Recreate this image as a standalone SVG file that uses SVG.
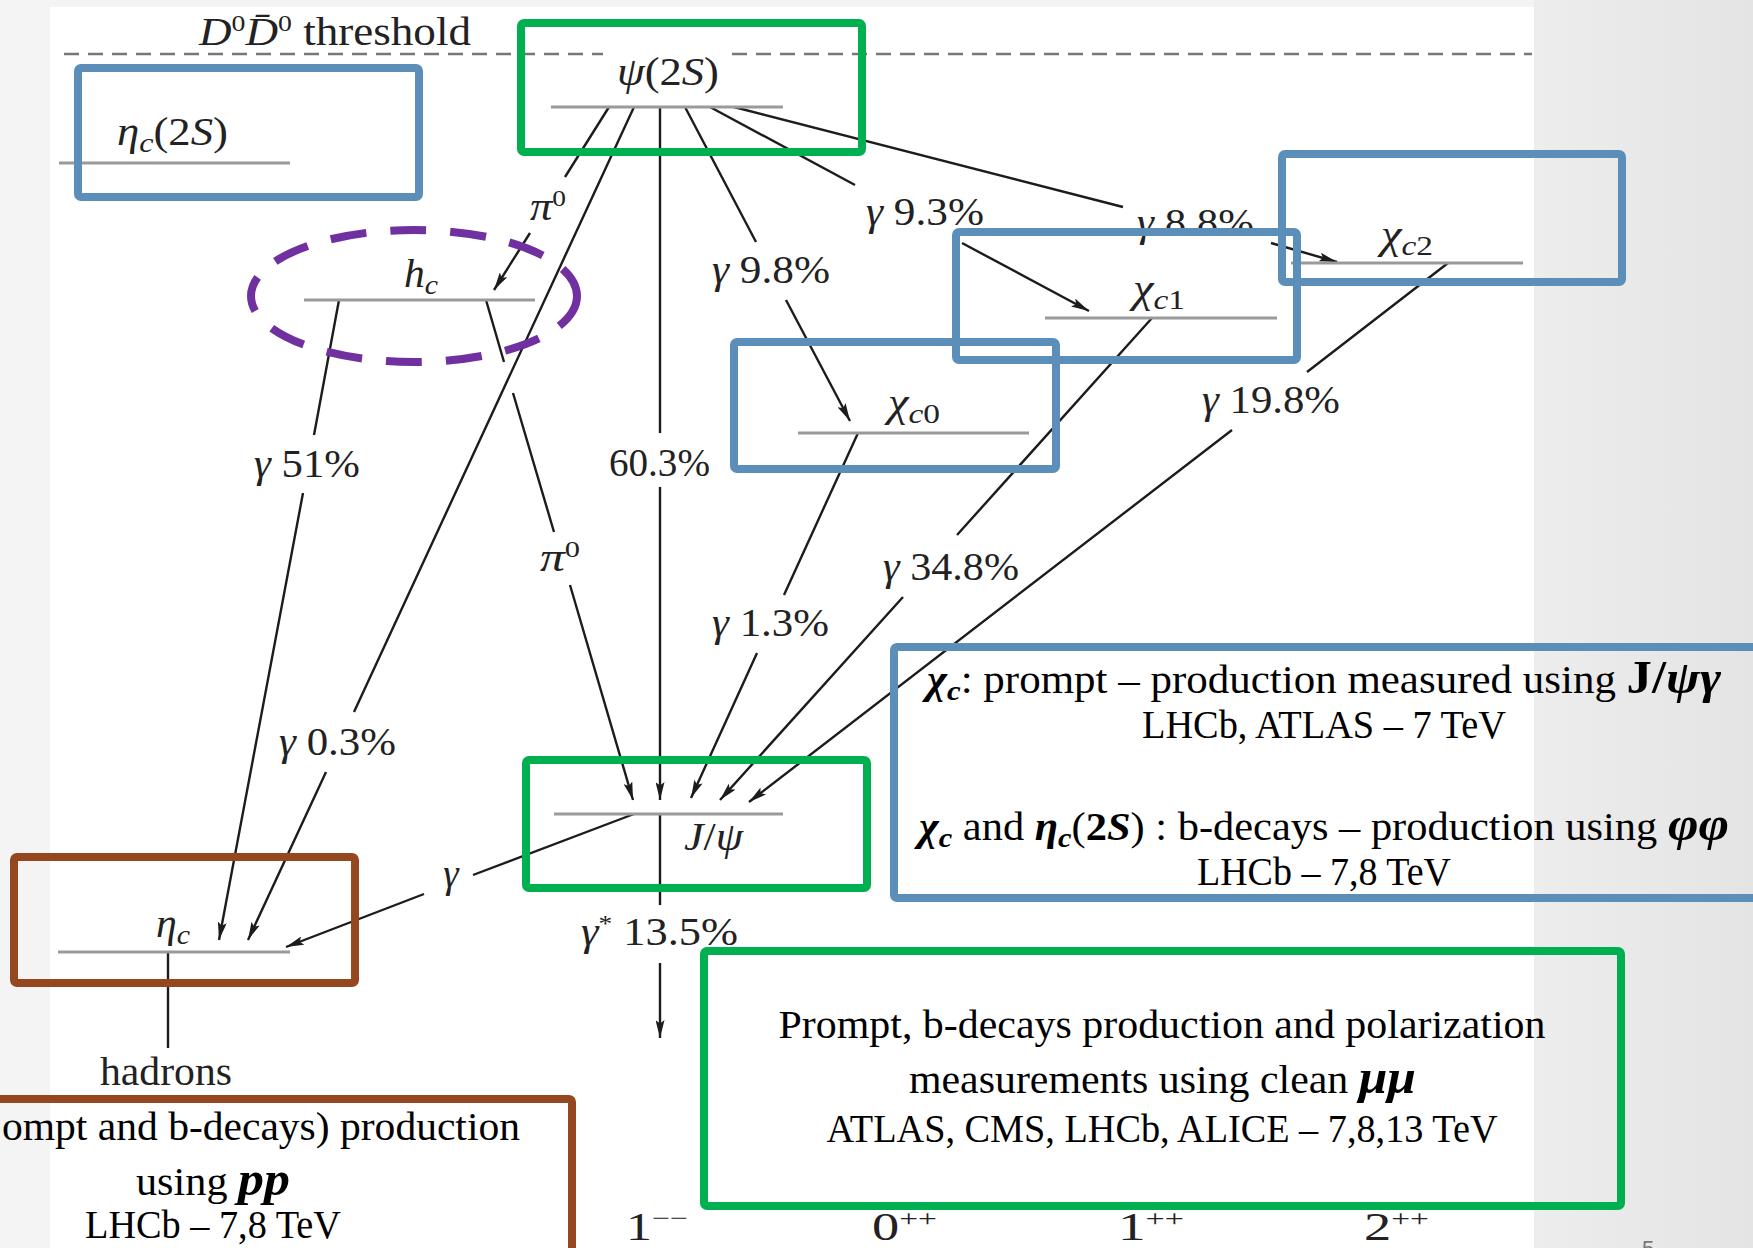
<svg xmlns="http://www.w3.org/2000/svg" width="1753" height="1248" viewBox="0 0 1753 1248">
<defs>
<style>
.lvl{stroke:#9a9a9a;stroke-width:3;fill:none}
.cn{stroke:#1c1c1c;stroke-width:2.4;fill:none}
.ar{marker-end:url(#ah)}
.lb{font-family:"Liberation Serif","DejaVu Serif",serif;font-size:39px;fill:#222}
.it{font-style:italic}
.tx{font-family:"Liberation Serif","DejaVu Serif",serif;font-size:39px;fill:#000}
.mb{font-weight:bold;font-style:italic}
.bb{fill:none;stroke:#5b8eb9;stroke-width:8}
.bg{fill:none;stroke:#00b050;stroke-width:8}
.br{fill:none;stroke:#95481f;stroke-width:8}
</style>
<marker id="ah" viewBox="0 0 18 9" refX="18" refY="4.5" markerWidth="18" markerHeight="9" markerUnits="userSpaceOnUse" orient="auto"><path d="M0,0 L18,4.5 L0,9 L3.5,4.5 z" fill="#1c1c1c"/></marker>
<linearGradient id="gr" x1="0" x2="1" y1="0" y2="0"><stop offset="0" stop-color="#ededed"/><stop offset="1" stop-color="#e4e4e4"/></linearGradient>
</defs>

<g id="background">
<rect width="1753" height="1248" fill="#f4f4f4"/>
<rect x="1534" y="0" width="219" height="1248" fill="url(#gr)"/>
<rect x="50" y="7" width="1484" height="1241" fill="#fff"/>
</g>

<g id="threshold">
<path d="M64,54 L603,54 M732,54 L1532,54" stroke="#777" stroke-width="2.5" stroke-dasharray="15 9" fill="none"/>
<text class="lb" x="199" y="45" textLength="272" lengthAdjust="spacingAndGlyphs"><tspan class="it">D</tspan><tspan font-size="24" dy="-14">0</tspan><tspan class="it" dy="14">D&#x304;</tspan><tspan font-size="24" dy="-14">0</tspan><tspan dy="14"> threshold</tspan></text>
</g>

<g id="connectors">
<path class="cn ar" d="M609,107 L565,177 M530,233 L494,290"/>
<path class="cn ar" d="M634,107 L354,712 M326,772 L248,940"/>
<path class="cn ar" d="M660,107 L660,433 M660,487 L660,800"/>
<path class="cn ar" d="M685,107 L756,242 M786,300 L850,421"/>
<path class="cn ar" d="M710,107 L855,185 M962,243 L1089,311"/>
<path class="cn ar" d="M734,107 L1123,207 M1271,243 L1337,262"/>
<path class="cn ar" d="M339,300 L314,435 M303,493 L219,940"/>
<path class="cn ar" d="M486,300 L504,362 M513,393 L554,532 M570,585 L633,800"/>
<path class="cn ar" d="M858,433 L784,595 M757,653 L691,798"/>
<path class="cn ar" d="M1152,318 L957,535 M903,597 L720,800"/>
<path class="cn ar" d="M1448,263 L1307,372 M1232,430 L749,802"/>
<path class="cn ar" d="M634,814 L473,875 M424,894 L286,947"/>
<path class="cn ar" d="M660,814 L660,905 M660,963 L660,1038"/>
<path class="cn" d="M168,952 L168,1048"/>
<text class="lb" x="530" y="220" textLength="36" lengthAdjust="spacingAndGlyphs"><tspan class="it">π</tspan><tspan font-size="24" dy="-14">0</tspan></text>
<text class="lb" x="279" y="755" textLength="117" lengthAdjust="spacingAndGlyphs"><tspan class="it">γ</tspan> 0.3%</text>
<text class="lb" x="609" y="476" textLength="101" lengthAdjust="spacingAndGlyphs">60.3%</text>
<text class="lb" x="712" y="283" textLength="118" lengthAdjust="spacingAndGlyphs"><tspan class="it">γ</tspan> 9.8%</text>
<text class="lb" x="866" y="225" textLength="118" lengthAdjust="spacingAndGlyphs"><tspan class="it">γ</tspan> 9.3%</text>
<text class="lb" x="1137" y="236" textLength="117" lengthAdjust="spacingAndGlyphs"><tspan class="it">γ</tspan> 8.8%</text>
<text class="lb" x="254" y="477" textLength="106" lengthAdjust="spacingAndGlyphs"><tspan class="it">γ</tspan> 51%</text>
<text class="lb" x="540" y="571" textLength="40" lengthAdjust="spacingAndGlyphs"><tspan class="it">π</tspan><tspan font-size="24" dy="-14">0</tspan></text>
<text class="lb" x="712" y="636" textLength="117" lengthAdjust="spacingAndGlyphs"><tspan class="it">γ</tspan> 1.3%</text>
<text class="lb" x="883" y="580" textLength="136" lengthAdjust="spacingAndGlyphs"><tspan class="it">γ</tspan> 34.8%</text>
<text class="lb" x="1202" y="413" textLength="138" lengthAdjust="spacingAndGlyphs"><tspan class="it">γ</tspan> 19.8%</text>
<text class="lb it" x="451" y="887" text-anchor="middle">γ</text>
<text class="lb" x="581" y="945" textLength="157" lengthAdjust="spacingAndGlyphs"><tspan class="it">γ</tspan><tspan font-size="24" dy="-14">*</tspan><tspan dy="14"> 13.5%</tspan></text>
</g>

<g id="node-etac2S">
<line class="lvl" x1="59" y1="163" x2="290" y2="163"/>
<text class="lb" x="117" y="145" font-size="40" textLength="111" lengthAdjust="spacingAndGlyphs"><tspan class="it">η</tspan><tspan class="it" font-size="28" dy="7">c</tspan><tspan dy="-7">(2</tspan><tspan class="it">S</tspan>)</text>
<rect class="bb" x="78" y="68" width="341" height="129" rx="3"/>
</g>

<g id="node-psi2S">
<line class="lvl" x1="551" y1="107" x2="783" y2="107"/>
<text class="lb" x="617" y="85" font-size="40" textLength="102" lengthAdjust="spacingAndGlyphs"><tspan class="it">ψ</tspan>(2<tspan class="it">S</tspan>)</text>
<rect class="bg" x="521" y="23" width="341" height="129" rx="3"/>
</g>

<g id="node-hc">
<line class="lvl" x1="304" y1="300" x2="535" y2="300"/>
<text class="lb" x="404" y="287" font-size="40" textLength="34" lengthAdjust="spacingAndGlyphs"><tspan class="it">h</tspan><tspan class="it" font-size="28" dy="7">c</tspan></text>
<ellipse cx="414" cy="296" rx="163" ry="66" fill="none" stroke="#7030a0" stroke-width="8" stroke-dasharray="36 24"/>
</g>

<g id="node-chic2">
<line class="lvl" x1="1291" y1="263" x2="1523" y2="263"/>
<text class="lb" x="1381" y="248" font-size="40" textLength="52" lengthAdjust="spacingAndGlyphs"><tspan class="it">χ</tspan><tspan class="it" font-size="28" dy="7">c</tspan><tspan font-size="28">2</tspan></text>
<rect class="bb" x="1282" y="154" width="340" height="128" rx="3"/>
</g>

<g id="node-chic1">
<line class="lvl" x1="1045" y1="318" x2="1277" y2="318"/>
<text class="lb" x="1133" y="302" font-size="40" textLength="52" lengthAdjust="spacingAndGlyphs"><tspan class="it">χ</tspan><tspan class="it" font-size="28" dy="7">c</tspan><tspan font-size="28">1</tspan></text>
<rect class="bb" x="956" y="232" width="341" height="128" rx="3"/>
</g>

<g id="node-chic0">
<line class="lvl" x1="798" y1="433" x2="1029" y2="433"/>
<text class="lb" x="888" y="416" font-size="40" textLength="52" lengthAdjust="spacingAndGlyphs"><tspan class="it">χ</tspan><tspan class="it" font-size="28" dy="7">c</tspan><tspan font-size="28">0</tspan></text>
<rect class="bb" x="734" y="342" width="322" height="127" rx="3"/>
</g>

<g id="node-jpsi">
<line class="lvl" x1="554" y1="814" x2="783" y2="814"/>
<text class="lb" x="684" y="850" font-size="40" textLength="59" lengthAdjust="spacingAndGlyphs"><tspan class="it">J</tspan>/<tspan class="it">ψ</tspan></text>
<rect class="bg" x="526" y="760" width="341" height="128" rx="3"/>
</g>

<g id="node-etac">
<line class="lvl" x1="58" y1="952" x2="290" y2="952"/>
<text class="lb" x="156" y="937" font-size="40" textLength="34" lengthAdjust="spacingAndGlyphs"><tspan class="it">η</tspan><tspan class="it" font-size="28" dy="7">c</tspan></text>
<rect class="br" x="14" y="857" width="341" height="126" rx="3"/>
</g>

<g id="node-hadrons">
<text class="lb" x="100" y="1085" textLength="132" lengthAdjust="spacingAndGlyphs">hadrons</text>
</g>

<g id="note-chic">
<rect class="bb" x="894" y="647" width="900" height="251" rx="3"/>
<text class="tx" x="927" y="693" textLength="794" lengthAdjust="spacingAndGlyphs"><tspan class="mb">χ</tspan><tspan class="mb" font-size="28" dy="7">c</tspan><tspan dy="-7">: prompt – production measured using </tspan><tspan font-weight="bold" font-size="46">J/</tspan><tspan class="mb" font-size="46">ψγ</tspan></text>
<text class="tx" x="1324" y="738" text-anchor="middle" textLength="364" lengthAdjust="spacingAndGlyphs">LHCb, ATLAS – 7 TeV</text>
<text class="tx" x="919" y="840" textLength="810" lengthAdjust="spacingAndGlyphs"><tspan class="mb">χ</tspan><tspan class="mb" font-size="28" dy="7">c</tspan><tspan dy="-7"> and </tspan><tspan class="mb">η</tspan><tspan class="mb" font-size="28" dy="7">c</tspan><tspan dy="-7">(</tspan><tspan font-weight="bold">2</tspan><tspan class="mb">S</tspan><tspan>) : b-decays – production using </tspan><tspan class="mb" font-size="48">φφ</tspan></text>
<text class="tx" x="1324" y="885" text-anchor="middle" textLength="254" lengthAdjust="spacingAndGlyphs">LHCb – 7,8 TeV</text>
</g>

<g id="note-jpsi">
<rect class="bg" x="704" y="951" width="917" height="255" rx="3"/>
<text class="tx" x="1162" y="1038" text-anchor="middle" textLength="767" lengthAdjust="spacingAndGlyphs">Prompt, b-decays production and polarization</text>
<text class="tx" x="909" y="1093" textLength="507" lengthAdjust="spacingAndGlyphs">measurements using clean <tspan class="mb" font-size="48">μμ</tspan></text>
<text class="tx" x="1162" y="1142" text-anchor="middle" textLength="671" lengthAdjust="spacingAndGlyphs">ATLAS, CMS, LHCb, ALICE – 7,8,13 TeV</text>
</g>

<g id="note-etac">
<rect class="br" x="-20" y="1099" width="592" height="200" rx="3"/>
<text class="tx" x="520" y="1140" text-anchor="end" textLength="518" lengthAdjust="spacingAndGlyphs">ompt and b-decays) production</text>
<text class="tx" x="136" y="1195" textLength="154" lengthAdjust="spacingAndGlyphs">using <tspan class="mb" font-size="48">pp</tspan></text>
<text class="tx" x="213" y="1238" text-anchor="middle" textLength="256" lengthAdjust="spacingAndGlyphs">LHCb – 7,8 TeV</text>
</g>

<g id="axis">
<text class="lb" x="626" y="1240" textLength="62" lengthAdjust="spacingAndGlyphs">1<tspan font-size="24" dy="-14">−−</tspan></text>
<text class="lb" x="872" y="1240" textLength="65" lengthAdjust="spacingAndGlyphs">0<tspan font-size="24" dy="-14">++</tspan></text>
<text class="lb" x="1118" y="1240" textLength="66" lengthAdjust="spacingAndGlyphs">1<tspan font-size="24" dy="-14">++</tspan></text>
<text class="lb" x="1364" y="1240" textLength="65" lengthAdjust="spacingAndGlyphs">2<tspan font-size="24" dy="-14">++</tspan></text>
<text x="1642" y="1256" font-family="Liberation Sans, sans-serif" font-size="22" fill="#777">5</text>
</g>
</svg>
